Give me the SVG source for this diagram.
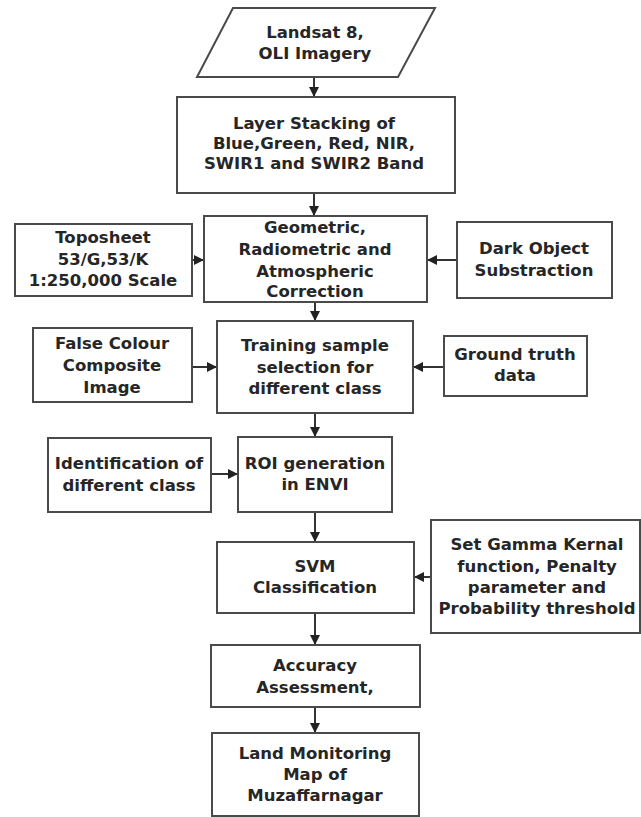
<svg xmlns="http://www.w3.org/2000/svg" width="641" height="817" viewBox="0 0 641 817">
<style>
.box{fill:#fff;stroke:#4a4a4a;stroke-width:2}
.t{font-family:"DejaVu Sans",Verdana,sans-serif;font-weight:bold;font-size:16.5px;fill:#262626;text-anchor:middle}
.c{stroke:#333;stroke-width:2;fill:none;marker-end:url(#ah)}
</style>
<defs>
<marker id="ah" viewBox="0 0 10 10" refX="10" refY="5" markerWidth="5" markerHeight="5" orient="auto" markerUnits="strokeWidth">
<path d="M0,0 L10,5 L0,10 z" fill="#222"/>
</marker>
</defs>
<rect width="641" height="817" fill="#fff"/>
<g id="connectors">
<line class="c" x1="314" y1="77" x2="314" y2="97"/>
<line class="c" x1="314" y1="193" x2="314" y2="216"/>
<line class="c" x1="192" y1="260" x2="204" y2="260"/>
<line class="c" x1="457" y1="260" x2="427" y2="260"/>
<line class="c" x1="315" y1="302" x2="315" y2="321"/>
<line class="c" x1="192" y1="367" x2="217" y2="367"/>
<line class="c" x1="444" y1="367" x2="413" y2="367"/>
<line class="c" x1="315" y1="413" x2="315" y2="437"/>
<line class="c" x1="211" y1="474" x2="238" y2="474"/>
<line class="c" x1="315" y1="512" x2="315" y2="542"/>
<line class="c" x1="431" y1="577" x2="414" y2="577"/>
<line class="c" x1="315" y1="613" x2="315" y2="645"/>
<line class="c" x1="315" y1="707" x2="315" y2="733"/>
</g>
<g id="landsat">
<polygon class="box" points="233,8 435,8 398,77 197,77"/>
<text class="t" x="315" y="38">Landsat 8,</text>
<text class="t" x="315" y="59">OLI Imagery</text>
</g>
<g id="layerstack">
<rect class="box" x="177" y="97" width="278" height="96"/>
<text class="t" x="314" y="129">Layer Stacking of</text>
<text class="t" x="314" y="149">Blue,Green, Red, NIR,</text>
<text class="t" x="314" y="169">SWIR1 and SWIR2 Band</text>
</g>
<g id="toposheet">
<rect class="box" x="15" y="224" width="177" height="72"/>
<text class="t" x="103" y="243">Toposheet</text>
<text class="t" x="103" y="265">53/G,53/K</text>
<text class="t" x="103" y="286">1:250,000 Scale</text>
</g>
<g id="correction">
<rect class="box" x="204" y="216" width="223" height="86"/>
<text class="t" x="315" y="233">Geometric,</text>
<text class="t" x="315" y="255">Radiometric and</text>
<text class="t" x="315" y="277">Atmospheric</text>
<text class="t" x="315" y="297">Correction</text>
</g>
<g id="darkobject">
<rect class="box" x="457" y="222" width="155" height="76"/>
<text class="t" x="534" y="254">Dark Object</text>
<text class="t" x="534" y="276">Substraction</text>
</g>
<g id="fcc">
<rect class="box" x="33" y="328" width="159" height="74"/>
<text class="t" x="112" y="349">False Colour</text>
<text class="t" x="112" y="371">Composite</text>
<text class="t" x="112" y="393">Image</text>
</g>
<g id="training">
<rect class="box" x="217" y="321" width="196" height="92"/>
<text class="t" x="315" y="351">Training sample</text>
<text class="t" x="315" y="373">selection for</text>
<text class="t" x="315" y="394">different class</text>
</g>
<g id="groundtruth">
<rect class="box" x="444" y="336" width="143" height="60"/>
<text class="t" x="515" y="360">Ground truth</text>
<text class="t" x="515" y="381">data</text>
</g>
<g id="identification">
<rect class="box" x="48" y="438" width="163" height="74"/>
<text class="t" x="129" y="469">Identification of</text>
<text class="t" x="129" y="491">different class</text>
</g>
<g id="roi">
<rect class="box" x="238" y="437" width="154" height="75"/>
<text class="t" x="315" y="469">ROI generation</text>
<text class="t" x="315" y="490">in ENVI</text>
</g>
<g id="svm">
<rect class="box" x="217" y="542" width="197" height="71"/>
<text class="t" x="315" y="572">SVM</text>
<text class="t" x="315" y="593">Classification</text>
</g>
<g id="gamma">
<rect class="box" x="431" y="520" width="209" height="113"/>
<text class="t" x="537" y="550">Set Gamma Kernal</text>
<text class="t" x="537" y="572">function, Penalty</text>
<text class="t" x="537" y="593">parameter and</text>
<text class="t" x="537" y="614">Probability threshold</text>
</g>
<g id="accuracy">
<rect class="box" x="211" y="645" width="209" height="62"/>
<text class="t" x="315" y="671">Accuracy</text>
<text class="t" x="315" y="693">Assessment,</text>
</g>
<g id="landmap">
<rect class="box" x="212" y="733" width="207" height="83"/>
<text class="t" x="315" y="759">Land Monitoring</text>
<text class="t" x="315" y="780">Map of</text>
<text class="t" x="315" y="801">Muzaffarnagar</text>
</g>
</svg>
